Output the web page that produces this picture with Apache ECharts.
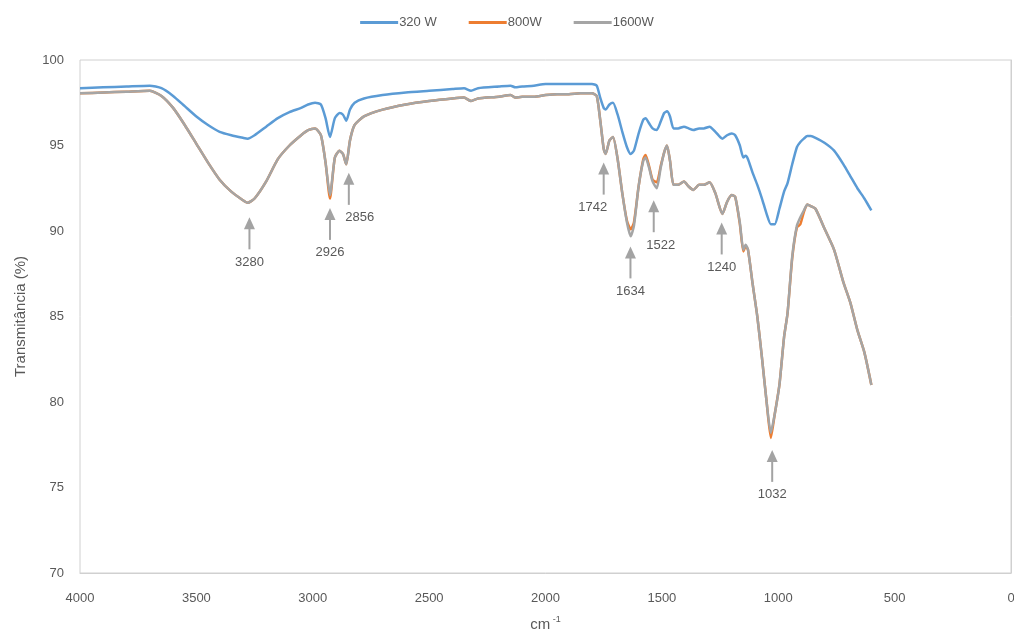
<!DOCTYPE html>
<html>
<head>
<meta charset="utf-8">
<script src="https://cdn.jsdelivr.net/npm/echarts@6/dist/echarts.min.js"></script>
<style>html,body{margin:0;padding:0;background:#fff;}#c{width:1014px;height:634px;}</style>
</head>
<body>
<div id="c"></div>
<script>
// Wavenumbers (cm-1)
const wn = [4000,3900,3800,3700,3650,3600,3550,3500,3450,3400,3350,3300,3280,3250,3200,3150,3100,3050,3020,2990,2965,2945,2926,2905,2885,2870,2856,2840,2820,2780,2700,2600,2500,2400,2350,2320,2290,2200,2150,2130,2100,2050,2000,1950,1900,1850,1800,1780,1765,1750,1742,1725,1710,1690,1670,1650,1634,1620,1600,1580,1570,1555,1540,1522,1505,1490,1478,1465,1450,1430,1405,1385,1365,1340,1320,1295,1270,1240,1220,1200,1185,1165,1150,1140,1130,1110,1090,1070,1050,1032,1015,995,975,960,940,920,905,890,875,860,840,800,760,720,690,660,630,600];
// 320 W
const t320 = [98.35,98.4,98.45,98.5,98.35,97.9,97.3,96.7,96.2,95.8,95.6,95.45,95.4,95.6,96.1,96.6,96.95,97.2,97.4,97.5,97.4,96.6,95.5,96.6,96.9,96.8,96.45,97.1,97.5,97.75,97.95,98.1,98.2,98.3,98.35,98.2,98.35,98.45,98.5,98.4,98.45,98.5,98.6,98.6,98.6,98.6,98.6,98.5,97.8,97.2,97.1,97.4,97.5,96.8,95.8,94.9,94.5,94.7,95.7,96.5,96.6,96.3,96.0,95.9,96.4,96.9,97.0,96.7,96.0,96.0,96.1,96.0,95.9,96.0,96.0,96.1,95.8,95.4,95.6,95.7,95.6,95.0,94.3,94.4,94.2,93.4,92.7,91.9,91.0,90.4,90.4,91.3,92.3,92.8,93.9,94.9,95.2,95.4,95.55,95.55,95.45,95.15,94.7,93.9,93.2,92.5,91.9,91.2];
// 800W
const t800 = [98.05,98.1,98.15,98.2,97.9,97.2,96.2,95.1,94.0,93.0,92.3,91.8,91.65,91.9,92.9,94.2,95.0,95.6,95.9,96.0,95.6,94.0,91.9,94.3,94.7,94.5,93.9,95.3,96.2,96.7,97.1,97.4,97.6,97.75,97.8,97.6,97.75,97.85,97.95,97.8,97.85,97.85,97.95,98.0,98.0,98.05,98.05,97.9,96.5,94.8,94.5,95.3,95.5,94.2,92.2,90.6,90.1,90.5,92.6,94.2,94.45,93.8,93.0,92.85,93.8,94.6,95.0,94.1,92.7,92.7,92.9,92.6,92.4,92.7,92.7,92.85,92.2,91.0,91.7,92.1,92.0,90.4,88.8,89.1,88.9,86.9,85.0,82.6,80.0,77.9,79.3,81.0,83.8,85.2,88.4,90.2,90.4,91.1,91.55,91.45,91.3,90.1,88.9,87.0,85.8,84.2,82.9,81.0];
// 1600W
const t1600 = [98.05,98.1,98.15,98.2,97.9,97.2,96.2,95.1,94.0,93.0,92.3,91.8,91.65,91.9,92.9,94.2,95.0,95.6,95.9,96.0,95.6,94.0,92.1,94.3,94.7,94.5,93.9,95.3,96.2,96.7,97.1,97.4,97.6,97.75,97.8,97.6,97.75,97.85,97.95,97.8,97.85,97.85,97.95,98.0,98.0,98.05,98.05,97.9,96.5,94.8,94.5,95.3,95.5,94.2,92.2,90.5,89.7,90.3,92.6,94.1,94.3,93.7,92.9,92.5,93.7,94.6,95.0,94.1,92.7,92.7,92.9,92.6,92.4,92.7,92.7,92.85,92.2,91.0,91.7,92.1,92.0,90.5,88.9,89.2,88.9,86.9,85.0,82.6,80.0,78.2,79.3,81.0,83.8,85.2,88.5,90.3,90.8,91.2,91.55,91.45,91.3,90.1,88.9,87.0,85.8,84.2,82.9,81.0];

// Peak annotations
const annLabels = ['3280','2926','2856','1742','1634','1522','1240','1032'];
const annX = [3272,2926,2845,1750,1635,1535,1243,1026];
const annTipY = [90.8,91.35,93.4,94.0,89.1,91.8,90.5,77.2];

const labelDx = {'2856':11,'1742':-11,'1522':7};

const chart = echarts.init(document.getElementById('c'));
const zip = (a,b)=>a.map((v,i)=>[v,b[i]]);
const txt = '#595959';
const FONT = 'Liberation Sans, Arial, sans-serif';

chart.setOption({
  animation:false,
  textStyle:{fontFamily:FONT},
  legend:{
    top:11, left:'center', itemGap:32, itemWidth:38, itemHeight:3,
    icon:'rect',
    textStyle:{color:txt,fontSize:13,fontFamily:FONT,padding:[0,0,0,-4]},
    data:['320 W','800W','1600W']
  },
  grid:{left:80,right:3,top:60,bottom:61,show:true,borderColor:'#d0d0d0',borderWidth:1,outerBoundsMode:'none',containLabel:false},
  xAxis:{
    type:'value', inverse:true, min:0, max:4000, interval:500,
    axisLine:{show:true,lineStyle:{color:'#d0d0d0'}},
    axisTick:{show:false}, splitLine:{show:false},
    axisLabel:{color:txt,fontSize:13,margin:19,fontFamily:FONT,formatter:v=>String(v)},
    name:'{a|cm}{b| -1}', nameLocation:'middle', nameGap:42,
    nameTextStyle:{rich:{a:{fontSize:15,color:txt,fontFamily:FONT},b:{fontSize:9,color:txt,fontFamily:FONT,padding:[0,0,10,0]}}}
  },
  yAxis:{
    type:'value', min:70, max:100, interval:5,
    axisLine:{show:true,lineStyle:{color:'#d0d0d0'}},
    axisTick:{show:false}, splitLine:{show:false},
    axisLabel:{color:txt,fontSize:13,margin:16,fontFamily:FONT,formatter:v=>String(v)},
    name:'Transmitância (%)', nameLocation:'middle', nameGap:52,
    nameTextStyle:{color:txt,fontSize:15,fontFamily:FONT}
  },
  series:[
    {name:'320 W',type:'line',data:zip(wn,t320),showSymbol:false,smooth:0.2,lineStyle:{width:2.5,color:'#5B9BD5'},itemStyle:{color:'#5B9BD5'}},
    {name:'800W',type:'line',data:zip(wn,t800),showSymbol:false,smooth:0.2,lineStyle:{width:2.5,color:'#ED7D31'},itemStyle:{color:'#ED7D31'}},
    {name:'1600W',type:'line',data:zip(wn,t1600),showSymbol:false,smooth:0.2,lineStyle:{width:2.5,color:'#A5A5A5'},itemStyle:{color:'#A5A5A5'}},
    {
      type:'custom', silent:true, z:10,
      data: annX.map((x,i)=>({value:[x,annTipY[i]],name:annLabels[i]})),
      renderItem:function(params, api){
        const p = api.coord([api.value(0), api.value(1)]);
        const name = annLabels[params.dataIndex];
        const dx = labelDx[name] || 0;
        const col = '#a3a3a3';
        return {type:'group',children:[
          {type:'line',shape:{x1:p[0],y1:p[1]+8,x2:p[0],y2:p[1]+32},style:{stroke:col,lineWidth:2}},
          {type:'polygon',shape:{points:[[p[0],p[1]],[p[0]-5.5,p[1]+12],[p[0]+5.5,p[1]+12]]},style:{fill:col}},
          {type:'text',x:p[0]+dx,y:p[1]+45,style:{text:name,fill:txt,fontSize:13,fontFamily:FONT,align:'center',verticalAlign:'middle'}}
        ]};
      }
    }
  ]
});
</script>
</body>
</html>
